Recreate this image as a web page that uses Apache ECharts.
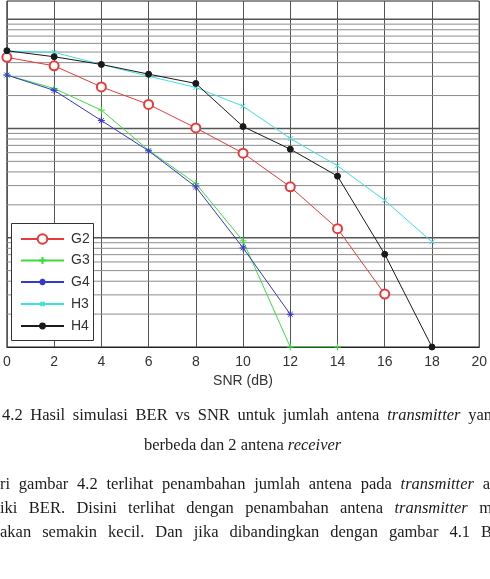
<!DOCTYPE html>
<html>
<head>
<meta charset="utf-8">
<script src="https://cdn.jsdelivr.net/npm/echarts@6/dist/echarts.min.js"></script>
<style>
html, body { margin: 0; padding: 0; background: #fff; }
#main { width: 490px; height: 579px; }
</style>
</head>
<body>
<div id="main"></div>
<script>
// SNR (dB) pada sumbu x
var snr = [0, 2, 4, 6, 8, 10, 12, 14, 16, 18];
// BER tiap konfigurasi
var berG2 = [0.0447, 0.0374, 0.0240, 0.0166, 0.0101, 0.00594, 0.00292, 0.00121, 0.000305];
var berG3 = [0.0308, 0.0232, 0.0147, 0.00632, 0.00313, 0.000935, 0.0001, 0.0001];
var berG4 = [0.0308, 0.0223, 0.0118, 0.00624, 0.00292, 0.000807, 0.000199];
var berH3 = [0.0511, 0.0497, 0.0385, 0.0301, 0.0237, 0.0160, 0.00809, 0.00455, 0.00220, 0.000916];
var berH4 = [0.0514, 0.0453, 0.0385, 0.0314, 0.0258, 0.0104, 0.00646, 0.00366, 0.000706, 0.0001];
var names = ['G2', 'G3', 'G4', 'H3', 'H4'];

// garis grid: dekade dan minor (2..9 tiap dekade)
var majorGrid = [1e-3, 1e-2, 1e-1];
var minorGrid = [2e-4, 3e-4, 4e-4, 5e-4, 6e-4, 7e-4, 8e-4, 9e-4,
                 2e-3, 3e-3, 4e-3, 5e-3, 6e-3, 7e-3, 8e-3, 9e-3,
                 2e-2, 3e-2, 4e-2, 5e-2, 6e-2, 7e-2, 8e-2, 9e-2];
var yMin = 1e-4, yMax = 0.1466;

// teks halaman (terpotong di kiri/kanan), kata diawali _ = miring
var captionLine1 = '4.2 Hasil simulasi BER vs SNR untuk jumlah antena _transmitter yan';
var captionLine2 = 'berbeda dan 2 antena _receiver';
var paraLines = [
    'ri gambar 4.2 terlihat penambahan jumlah antena pada _transmitter a',
    'iki BER. Disini terlihat dengan penambahan antena _transmitter m',
    'akan semakin kecil. Dan jika dibandingkan dengan gambar 4.1 B'
];

var serifName = 'Liberation Serif';
var textSize = 16.5;
var measureCtx = document.createElement('canvas').getContext('2d');
var texts = [];

function fontOf(italic) {
    return (italic ? 'italic ' : '') + textSize + 'px "' + serifName + '", serif';
}
function wordW(w) {
    var it = w.charAt(0) === '_';
    measureCtx.font = fontOf(it);
    return measureCtx.measureText(it ? w.slice(1) : w).width;
}
// tulis satu baris; x1 = null -> spasi normal, selain itu rata kiri-kanan
function putLine(line, x0, x1, y) {
    var words = line.split(' ');
    var ws = words.map(wordW);
    var total = ws.reduce(function (a, b) { return a + b; }, 0);
    var gap = x1 == null ? wordW(' ') : (x1 - x0 - total) / (words.length - 1);
    var x = x0;
    words.forEach(function (w, i) {
        var it = w.charAt(0) === '_';
        texts.push({
            type: 'text', x: x, y: y, z: 10,
            style: { text: it ? w.slice(1) : w, font: fontOf(it), fill: '#1c1c1c', verticalAlign: 'middle' }
        });
        x += ws[i] + gap;
    });
}
putLine(captionLine1, 2, 492, 416);
putLine(captionLine2, 144, null, 446);
putLine(paraLines[0], 0, 490, 485);
putLine(paraLines[1], 0, 492, 509);
putLine(paraLines[2], 0, 492, 533);

// kotak legenda
texts.push({
    type: 'rect', z: 3, silent: true,
    shape: { x: 11.5, y: 223.5, width: 82, height: 117 },
    style: { fill: '#fff', stroke: '#333', lineWidth: 1 }
});

function pairs(ys) {
    return ys.map(function (y, i) { return [snr[i], y]; });
}

var plusPath = 'path://M5,0L5,10M0,5L10,5';
var starPath = 'path://M5,0L5,10M0,5L10,5M1.5,1.5L8.5,8.5M1.5,8.5L8.5,1.5';
var crossPath = 'path://M0,0L10,10M0,10L10,0';

function mkSeries(name, data, color, symbol, size, fill) {
    return {
        name: name,
        type: 'line',
        z: 2,
        data: pairs(data),
        symbol: symbol,
        symbolSize: size,
        showAllSymbol: true,
        lineStyle: { color: color, width: 1 },
        itemStyle: { color: fill, borderColor: color, borderWidth: 1 }
    };
}

// legenda: satu per seri supaya ukuran simbol bisa beda
var legendCenters = [239, 260.5, 282, 304, 326];
var legendHeights = [12, 9, 8, 5, 6];
var legends = names.map(function (n, i) {
    return {
        data: [n], orient: 'vertical', z: 4,
        left: 20, top: legendCenters[i] - 7,
        padding: 0, itemWidth: 43, itemHeight: legendHeights[i],
        selectedMode: false,
        textStyle: { fontSize: 14, color: '#333', fontFamily: '"Liberation Sans", Arial, sans-serif', padding: [0, 0, 0, 2] }
    };
});

function hLine(v, color, width) {
    return {
        type: 'line', z: 1, silent: true, symbol: 'none',
        data: [[0, v], [20, v]],
        lineStyle: { color: color, width: width },
        tooltip: { show: false }
    };
}
var gridSeries = minorGrid.map(function (v) { return hLine(v, '#8c8c8c', 1); })
    .concat(majorGrid.map(function (v) { return hLine(v, '#555', 1.5); }));

var myChart = echarts.init(document.getElementById('main'));

var option = {
    animation: false,
    backgroundColor: '#fff',
    textStyle: { fontFamily: '"Liberation Sans", Arial, sans-serif' },
    grid: {
        left: 3, right: 5, top: 1, bottom: 232,
        show: true, borderColor: '#222', borderWidth: 1, backgroundColor: '#fff'
    },
    legend: legends,
    xAxis: {
        type: 'value', min: 0, max: 20, interval: 2,
        name: 'SNR (dB)', nameLocation: 'middle', nameGap: 27,
        nameTextStyle: { fontSize: 14, color: '#333' },
        axisLine: { show: true, onZero: false, lineStyle: { color: '#222' } },
        axisTick: { show: false },
        axisLabel: { fontSize: 14, color: '#333', margin: 8 },
        splitLine: { show: true, lineStyle: { color: '#555', width: 1 } }
    },
    yAxis: {
        type: 'log', logBase: 10, min: yMin, max: yMax,
        show: false
    },
    graphic: texts,
    series: gridSeries.concat([
        mkSeries('G2', berG2, '#e83a3a', 'emptyCircle', 9, '#e83a3a'),
        mkSeries('G3', berG3, '#3ddc3d', plusPath, 7, '#3ddc3d'),
        mkSeries('G4', berG4, '#3636d0', starPath, 7, '#3636d0'),
        mkSeries('H3', berH3, '#3fe0e0', crossPath, 5, '#3fe0e0'),
        mkSeries('H4', berH4, '#1a1a1a', 'circle', 6, '#1a1a1a')
    ])
};
myChart.setOption(option);
</script>
</body>
</html>
